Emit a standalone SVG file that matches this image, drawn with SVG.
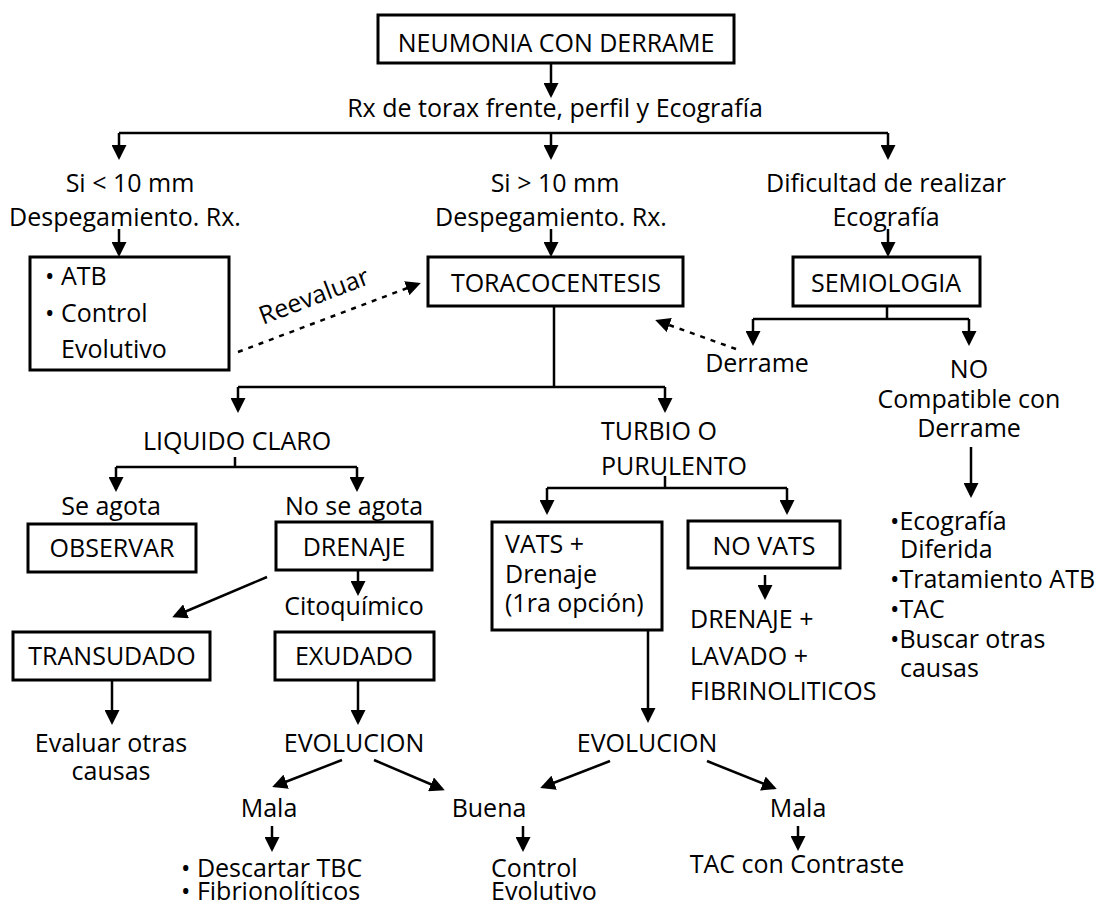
<svg xmlns="http://www.w3.org/2000/svg" width="1098" height="909" viewBox="0 0 1098 909">
<defs>
<style>
text{font-family:"Open Sans","Liberation Sans",sans-serif;font-size:25px;fill:#000}
.c{text-anchor:middle}
.box{fill:#fff;stroke:#000;stroke-width:3}
.ln{fill:none;stroke:#000;stroke-width:2.5}
.ar{fill:none;stroke:#000;stroke-width:2.5;marker-end:url(#ah)}
.dt{fill:none;stroke:#000;stroke-width:2.5;stroke-dasharray:5 6;marker-end:url(#ah)}
</style>
<marker id="ah" viewBox="0 0 15 15" refX="12" refY="7.5" markerWidth="15" markerHeight="15" markerUnits="userSpaceOnUse" orient="auto">
<path d="M0,0 L15,7.5 L0,15 z" fill="#000"/>
</marker>
</defs>
<rect width="1098" height="909" fill="#fff"/>
<g id="connectors">
<path class="ar" d="M551,63 V95"/>
<path class="ln" d="M119,133 H888"/>
<path class="ar" d="M119,133 V157"/>
<path class="ar" d="M551,133 V157"/>
<path class="ar" d="M888,133 V157"/>
<path class="ar" d="M119,229 V254"/>
<path class="ar" d="M551,229 V254"/>
<path class="ar" d="M888,229 V254"/>
<path class="dt" d="M238,352 L418,284"/>
<path class="ln" d="M887,306 V319 M753,319 H969"/>
<path class="ar" d="M753,319 V343"/>
<path class="ar" d="M969,319 V343"/>
<path class="dt" d="M736,349 L658,321"/>
<path class="ar" d="M971,447 V495"/>
<path class="ln" d="M554,306 V387 M238,387 H665"/>
<path class="ar" d="M238,387 V410"/>
<path class="ar" d="M665,387 V410"/>
<path class="ln" d="M235,457 V467 M116,467 H357"/>
<path class="ar" d="M116,467 V489"/>
<path class="ar" d="M357,467 V489"/>
<path class="ln" d="M665,476 V488 M547,488 H787"/>
<path class="ar" d="M547,488 V512"/>
<path class="ar" d="M787,488 V512"/>
<path class="ar" d="M358,570 V593"/>
<path class="ar" d="M267,577 L175,616"/>
<path class="ar" d="M112,680 V722"/>
<path class="ar" d="M358,680 V722"/>
<path class="ar" d="M342,760 L275,786"/>
<path class="ar" d="M374,760 L442,789"/>
<path class="ar" d="M272,826 V849"/>
<path class="ar" d="M523,826 V849"/>
<path class="ar" d="M765,575 V597"/>
<path class="ar" d="M648,630 V720"/>
<path class="ar" d="M610,761 L543,787"/>
<path class="ar" d="M707,761 L774,788"/>
<path class="ar" d="M798,826 V848"/>
</g>
<g id="n-neumonia"><rect class="box" x="378" y="15" width="356" height="48"/><text class="c" x="556" y="52">NEUMONIA CON DERRAME</text></g>
<g id="n-rx"><text class="c" x="555" y="117">Rx de torax frente, perfil y Ecografía</text></g>
<g id="n-simenor"><text class="c" x="130" y="192">Si &lt; 10 mm</text><text class="c" x="125" y="226">Despegamiento. Rx.</text></g>
<g id="n-simayor"><text class="c" x="555" y="192">Si &gt; 10 mm</text><text class="c" x="551" y="226">Despegamiento. Rx.</text></g>
<g id="n-dificultad"><text class="c" x="886" y="192">Dificultad de realizar</text><text class="c" x="886" y="226">Ecografía</text></g>
<g id="n-atb"><rect class="box" x="30" y="257" width="199" height="113"/><text x="45" y="285">• ATB</text><text x="45" y="322">• Control</text><text x="61" y="358">Evolutivo</text></g>
<g id="n-reevaluar"><text class="c" x="317" y="304" transform="rotate(-21 317 304)">Reevaluar</text></g>
<g id="n-toraco"><rect class="box" x="428" y="257" width="255" height="49"/><text class="c" x="556" y="292">TORACOCENTESIS</text></g>
<g id="n-semio"><rect class="box" x="793" y="257" width="187" height="49"/><text class="c" x="886" y="292">SEMIOLOGIA</text></g>
<g id="n-derrame"><text class="c" x="757" y="372">Derrame</text></g>
<g id="n-nocompat"><text class="c" x="969" y="378">NO</text><text class="c" x="969" y="408">Compatible con</text><text class="c" x="969" y="437">Derrame</text></g>
<g id="n-liquido"><text class="c" x="237" y="450">LIQUIDO CLARO</text></g>
<g id="n-turbio"><text x="601" y="440">TURBIO O</text><text x="601" y="475">PURULENTO</text></g>
<g id="n-seagota"><text class="c" x="111" y="515">Se agota</text></g>
<g id="n-noseagota"><text class="c" x="354" y="515">No se agota</text></g>
<g id="n-observar"><rect class="box" x="28" y="524" width="168" height="48"/><text class="c" x="112" y="557">OBSERVAR</text></g>
<g id="n-drenaje"><rect class="box" x="276" y="522" width="156" height="48"/><text class="c" x="354" y="556">DRENAJE</text></g>
<g id="n-citoq"><text class="c" x="354" y="615">Citoquímico</text></g>
<g id="n-transudado"><rect class="box" x="13" y="632" width="197" height="48"/><text class="c" x="112" y="665">TRANSUDADO</text></g>
<g id="n-exudado"><rect class="box" x="275" y="632" width="159" height="48"/><text class="c" x="354" y="665">EXUDADO</text></g>
<g id="n-evaluar"><text class="c" x="111" y="752">Evaluar otras</text><text class="c" x="111" y="780">causas</text></g>
<g id="n-evol1"><text class="c" x="354" y="752">EVOLUCION</text></g>
<g id="n-mala1"><text class="c" x="269" y="817">Mala</text></g>
<g id="n-descartar"><text x="181" y="877">• Descartar TBC</text><text x="181" y="900">• Fibrionolíticos</text></g>
<g id="n-buena"><text class="c" x="489" y="817">Buena</text></g>
<g id="n-control"><text x="491" y="877">Control</text><text x="491" y="900">Evolutivo</text></g>
<g id="n-vats"><rect class="box" x="492" y="522" width="170" height="108"/><text x="505" y="553">VATS +</text><text x="505" y="583">Drenaje</text><text x="505" y="612">(1ra opción)</text></g>
<g id="n-novats"><rect class="box" x="688" y="521" width="152" height="47"/><text class="c" x="764" y="555">NO VATS</text></g>
<g id="n-lavado"><text x="690" y="628">DRENAJE +</text><text x="690" y="665">LAVADO +</text><text x="690" y="700">FIBRINOLITICOS</text></g>
<g id="n-evol2"><text class="c" x="647" y="752">EVOLUCION</text></g>
<g id="n-mala2"><text class="c" x="798" y="817">Mala</text></g>
<g id="n-tac"><text class="c" x="797" y="873">TAC con Contraste</text></g>
<g id="n-lista"><text x="890" y="530">•Ecografía</text><text x="900" y="558">Diferida</text><text x="890" y="588">•Tratamiento ATB</text><text x="890" y="618">•TAC</text><text x="890" y="648">•Buscar otras</text><text x="900" y="677">causas</text></g>
</svg>
